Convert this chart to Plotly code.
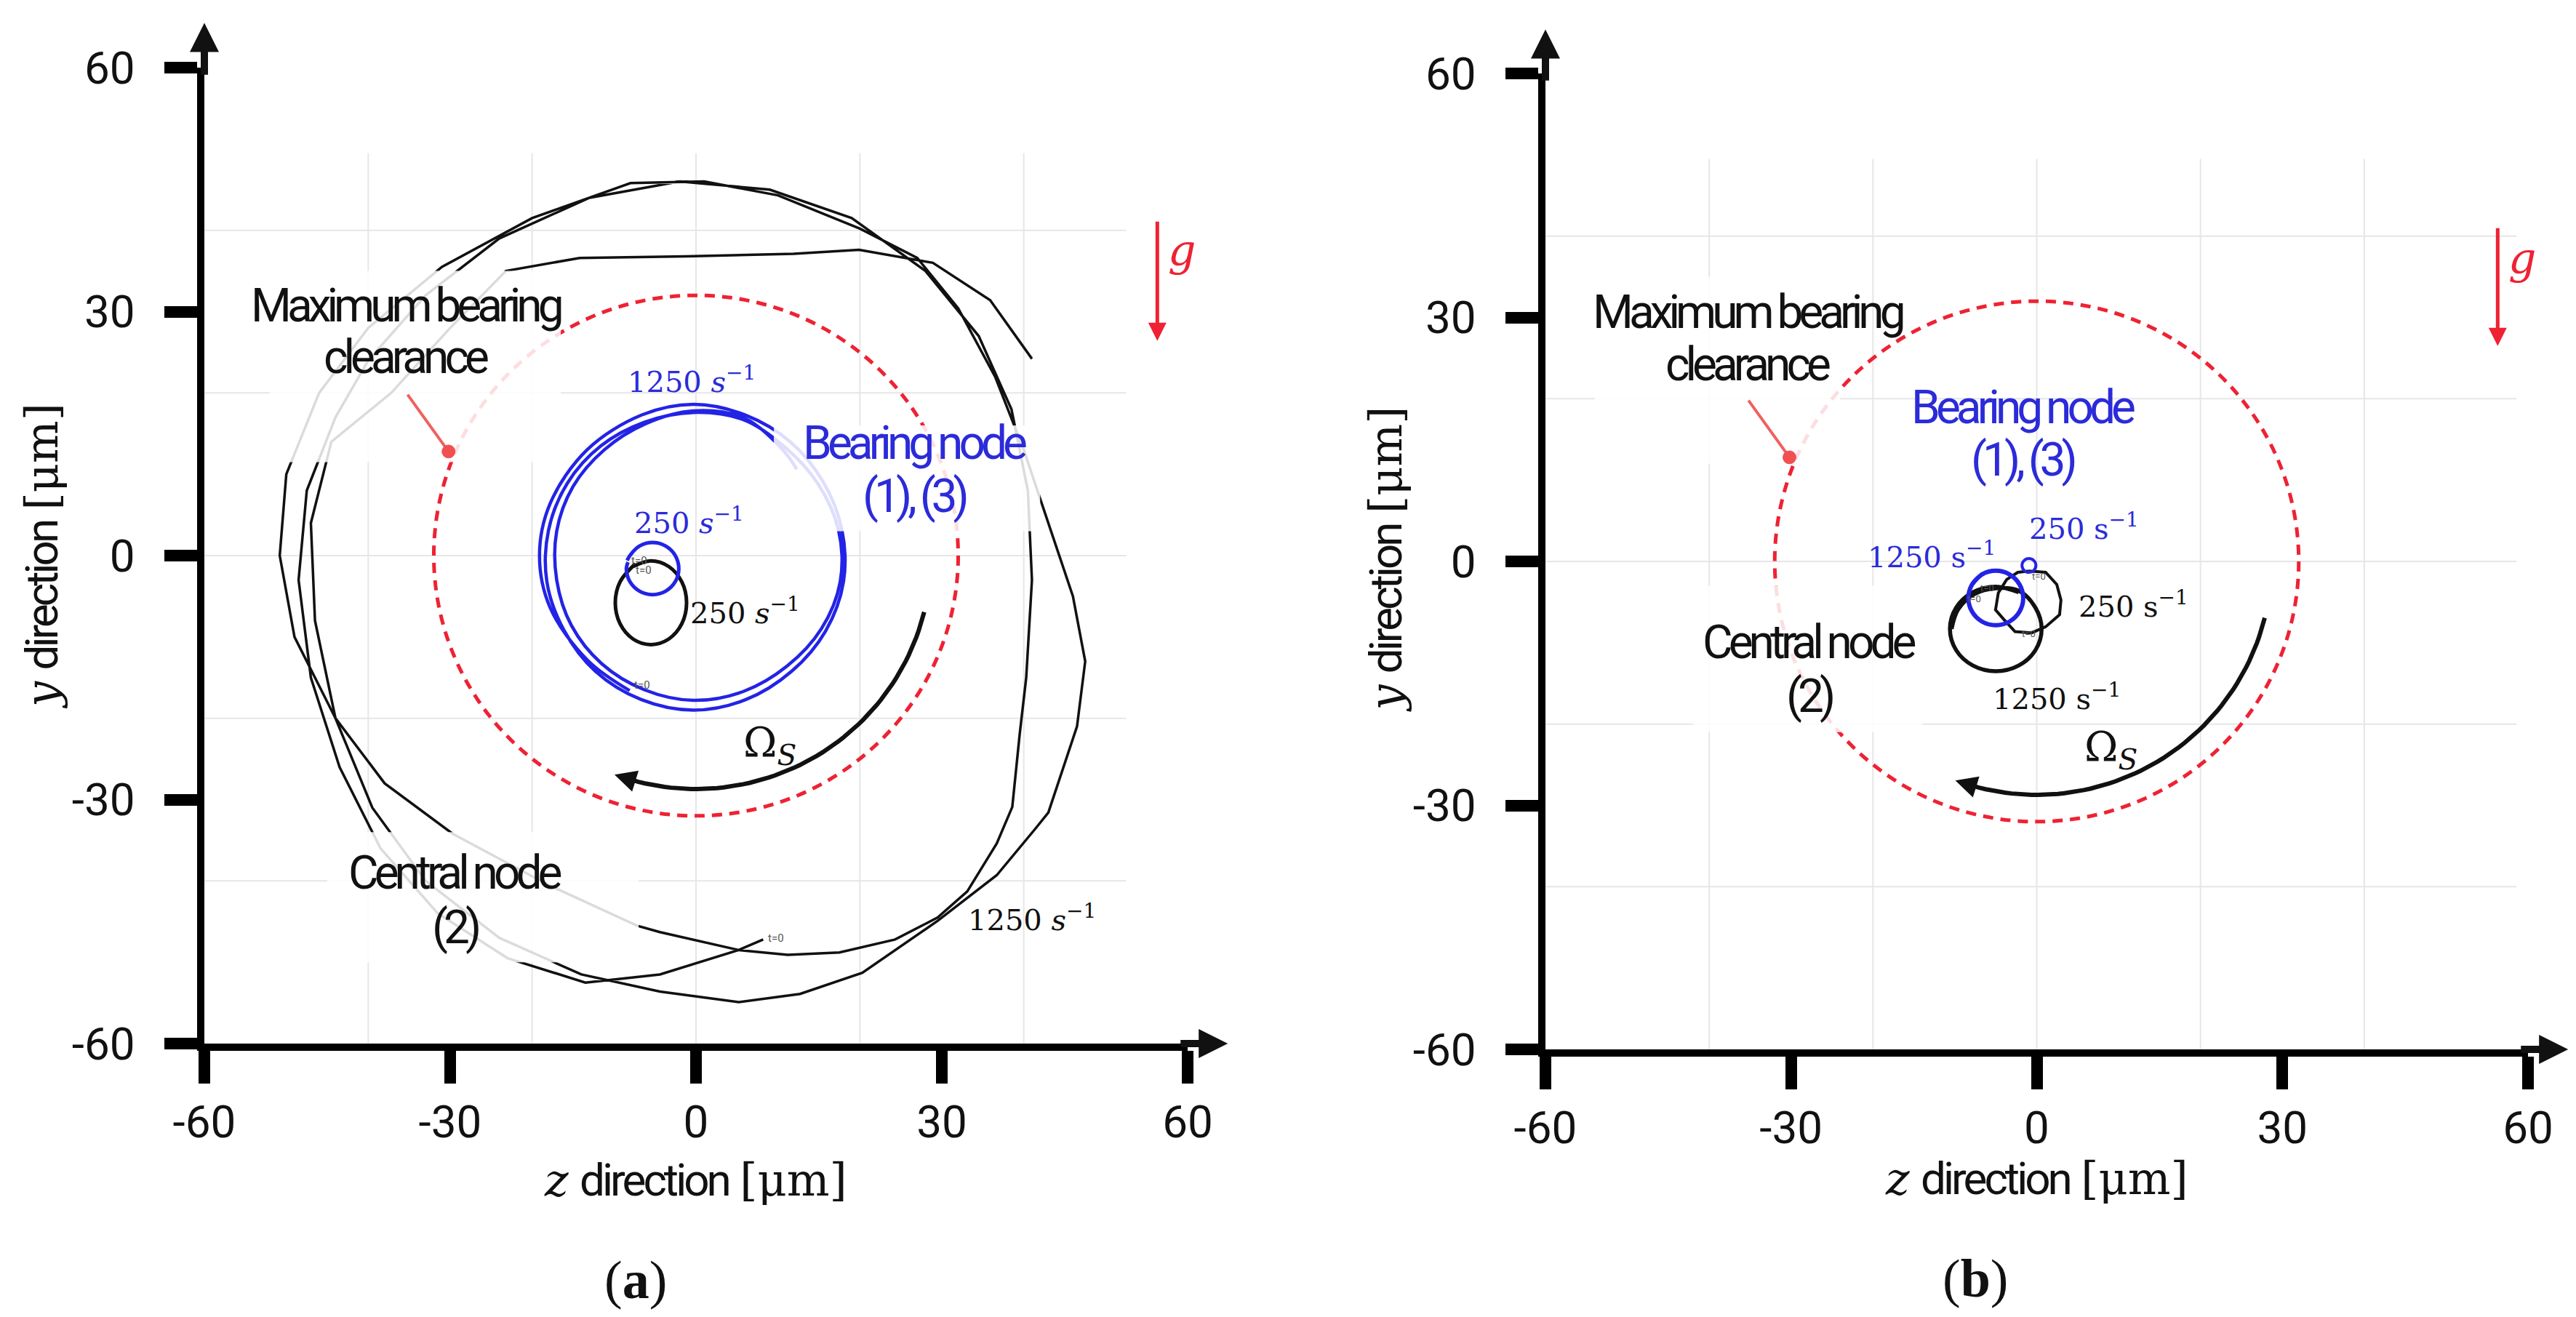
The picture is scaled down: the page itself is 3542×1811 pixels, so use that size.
import plotly.graph_objects as go
import numpy as np

W, H = 3542, 1811

# ---------------- shared axis values ----------------
TICK_VALS = [-60, -30, 0, 30, 60]
TICK_TEXT = ["-60", "-30", "0", "30", "60"]
GRID_VALS = [-40, -20, 0, 20, 40]
CLEARANCE_R = 32

# ---------------- panel (a) trajectories ----------------
A_BEAR_1250_Z = [-8.1, -13.2, -17.8, -19.1, -17.8, -13.3, -6.6, -0.3, 6.0, 11.5, 15.5, 17.8, 18.0, 15.8, 11.7, 6.1,
                 -0.3, -6.7, -12.3, -16.1, -18.2, -18.0, -15.7, -11.6, -6.3, -0.3, 5.8, 10.9, 14.9, 17.4, 17.6, 15.3,
                 11.1, 5.8, -0.3, -6.3, -11.5, -15.2, -17.0, -17.0, -15.0, -11.2, -6.2, -0.3, 5.9, 10.6, 12.3]
A_BEAR_1250_Y = [-16.6, -12.9, -6.4, 0.0, 6.4, 13.0, 17.3, 18.6, 17.3, 14.0, 9.1, 3.2, -3.2, -9.3, -14.2, -17.7,
                 -19.0, -17.7, -14.2, -9.2, -3.2, 3.1, 8.9, 13.5, 16.4, 17.6, 16.7, 13.3, 8.8, 3.1, -3.2, -9.0,
                 -13.6, -16.7, -17.8, -16.5, -13.3, -8.6, -3.0, 3.0, 8.5, 13.0, 16.2, 17.8, 16.9, 13.0, 10.6]

A_BEAR_250_Z = [-8.3, -8.5, -8.07, -6.9, -5.3, -3.7, -2.53, -2.1, -2.53, -3.7, -5.3, -6.9, -8.07, -8.4]
A_BEAR_250_Y = [-0.8, -1.6, -3.2, -4.37, -4.8, -4.37, -3.2, -1.6, 0.0, 1.17, 1.6, 1.17, 0.0, -0.6]

A_CENT_250_Z = [-7.4, -9.27, -9.85, -9.27, -7.68, -5.5, -3.33, -1.73, -1.15, -1.73, -3.33, -5.5, -7.68]
A_CENT_250_Y = [-1.0, -3.23, -5.8, -8.38, -10.26, -10.95, -10.26, -8.38, -5.8, -3.23, -1.34, -0.65, -1.34]

A_CENT_1250_Z = [8.2, 5.2, -4.4, -13.5, -23.0, -31.5, -38.5, -43.5, -47.0, -48.5, -47.5, -44.0, -40.0, -33.0,
                 -24.0, -13.0, -2.0, 9.0, 19.0, 28.0, 34.5, 38.5, 40.5, 41.0, 40.3, 39.5, 38.6, 36.7, 33.1, 29.5,
                 24.3, 17.5, 11.2, 5.2, -4.4, -7.2, -18.0, -29.7, -38.0, -44.0, -49.0, -50.8, -50.0, -46.0, -40.0,
                 -31.0, -20.0, -8.0, 1.0, 10.0, 20.0, 27.0, 32.0, 36.5, 40.0, 43.0, 46.0, 47.5, 46.5, 43.0, 41.4,
                 36.7, 29.5, 20.3, 12.7, 5.2, -4.4, -14.0, -24.0, -33.0, -39.5, -44.0, -46.5, -47.0, -44.5, -37.2,
                 -30.0, -23.2, -14.2, -1.2, 11.9, 19.9, 28.9, 35.9, 41.0]
A_CENT_1250_Y = [-47.2, -48.5, -51.5, -52.5, -49.5, -44.0, -36.0, -26.0, -15.0, -3.0, 8.0, 17.0, 24.0, 32.0,
                 39.0, 44.0, 46.0, 45.0, 41.5, 35.0, 27.0, 18.0, 8.0, -3.0, -15.0, -22.0, -30.9, -35.4, -41.3, -44.5,
                 -47.2, -48.8, -49.1, -48.5, -46.3, -45.5, -40.5, -34.2, -28.0, -20.0, -10.0, 0.0, 10.0, 20.0, 28.0,
                 35.5, 41.5, 45.8, 46.0, 44.3, 40.2, 36.6, 30.4, 22.0, 13.0, 4.0, -5.0, -13.0, -21.0, -31.6, -33.6,
                 -39.3, -44.9, -51.3, -53.9, -54.9, -53.6, -51.5, -47.0, -40.0, -31.0, -20.0, -8.0, 4.0, 14.0, 20.0,
                 28.0, 35.0, 36.6, 36.8, 37.1, 37.6, 36.0, 31.4, 24.2]

# ---------------- panel (b) trajectories ----------------
B_BEAR_1250_Z = [-6.6, -7.9, -8.35, -7.9, -6.68, -5.0, -3.33, -2.1, -1.65, -2.1, -3.33, -5.0, -6.68, -7.9]
B_BEAR_1250_Y = [-1.5, -2.83, -4.5, -6.18, -7.4, -7.85, -7.4, -6.18, -4.5, -2.83, -1.6, -1.15, -1.6, -2.83]

B_BEAR_250_Z = [-0.1, -0.35, -0.95, -1.55, -1.8, -1.55, -0.95, -0.35, -0.1]
B_BEAR_250_Y = [-0.5, 0.1, 0.35, 0.1, -0.5, -1.1, -1.35, -1.1, -0.5]

B_CENT_250_Z = [-0.95, 1.09, 2.45, 2.96, 2.79, 1.09, -0.61, -2.65, -4.01, -5.03, -4.69, -3.67, -2.31, -0.95]
B_CENT_250_Y = [-1.19, -1.34, -2.83, -4.76, -6.55, -8.04, -8.78, -8.63, -7.14, -5.95, -3.87, -2.23, -1.34, -1.19]

B_CENT_1250_Z = [-2.2, -5.0, -7.8, -9.85, -10.6, -9.85, -7.8, -5.0, -2.2, -0.15, 0.6, -0.15, -2.2, -5.0, -7.6,
                 -9.6, -10.4]
B_CENT_1250_Y = [-3.8, -3.1, -3.8, -5.7, -8.3, -10.9, -12.8, -13.5, -12.8, -10.9, -8.3, -5.7, -3.6, -3.3, -4.0,
                 -5.9, -8.3]

# decorative rotation arrow (centre at origin, radius, start/end angle in degrees)
OMEGA_R = 28.7
OMEGA_START = -14
OMEGA_END = -109

# ---------------- layout geometry ----------------
XA_DOM = [273 / W, 1625 / W]
YA_DOM = [1 - 1427 / H, 1 - 85 / H]
XB_DOM = [2117 / W, 3468 / W]
YB_DOM = [1 - 1435 / H, 1 - 93 / H]

BLUE = "#2323e6"
BLUE_TXT = "#2b2bd9"
RED = "#ee2233"
BLACK = "#111111"
SANS = "Roboto, Liberation Sans, sans-serif"
SERIF = "DejaVu Serif, Liberation Serif, serif"


def cond(s, sp=-6):
    return '<span style="letter-spacing:%dpx">%s</span>' % (sp, s)


fig = go.Figure()


def add_line(z, y, color, width, axes, shape="linear"):
    xa, ya = axes
    fig.add_trace(go.Scatter(x=z, y=y, mode="lines", xaxis=xa, yaxis=ya,
                             line=dict(color=color, width=width, shape=shape, smoothing=1.0),
                             hoverinfo="skip", showlegend=False))


# panel a
add_line(A_CENT_1250_Z, A_CENT_1250_Y, BLACK, 3.5, ("x", "y"))
add_line(A_BEAR_1250_Z, A_BEAR_1250_Y, BLUE, 4.5, ("x", "y"), "spline")
add_line(A_CENT_250_Z, A_CENT_250_Y, BLACK, 5, ("x", "y"), "spline")
add_line(A_BEAR_250_Z, A_BEAR_250_Y, BLUE, 5, ("x", "y"), "spline")
# panel b
add_line(B_CENT_1250_Z, B_CENT_1250_Y, BLACK, 5.5, ("x2", "y2"), "spline")
add_line(B_CENT_250_Z, B_CENT_250_Y, BLACK, 4, ("x2", "y2"))
add_line(B_BEAR_1250_Z, B_BEAR_1250_Y, BLUE, 6, ("x2", "y2"), "spline")
add_line(B_BEAR_250_Z, B_BEAR_250_Y, BLUE, 4, ("x2", "y2"), "spline")

# rotation arcs
theta = np.deg2rad(np.linspace(OMEGA_START, OMEGA_END, 60))
arc_z = OMEGA_R * np.cos(theta)
arc_y = OMEGA_R * np.sin(theta)
for axes in [("x", "y"), ("x2", "y2")]:
    add_line(arc_z, arc_y, BLACK, 6, axes)

shapes = []
annotations = []

for (xr, yr, gx_end) in [("x", "y", 52.5), ("x2", "y2", 58.6)]:
    for gv in GRID_VALS:
        shapes.append(dict(type="line", xref=xr, yref=yr, x0=gv, x1=gv, y0=-60, y1=49.5,
                           line=dict(color="#e6e6e6", width=2), layer="below"))
        shapes.append(dict(type="line", xref=xr, yref=yr, x0=-60, x1=gx_end, y0=gv, y1=gv,
                           line=dict(color="#e6e6e6", width=2), layer="below"))
    shapes.append(dict(type="circle", xref=xr, yref=yr, x0=-CLEARANCE_R, x1=CLEARANCE_R,
                       y0=-CLEARANCE_R, y1=CLEARANCE_R,
                       line=dict(color=RED, width=5, dash="14px,10px"), layer="below"))

# semi-transparent label backgrounds
BOXES = [("x", "y", -52, -16.5, 11.5, 35), ("x", "y", -45, -7, -50, -34), ("x", "y", 9.5, 42, 3, 16),
         ("x2", "y2", -54, -24, 12, 35), ("x2", "y2", -42, -14, -21, -3)]
for xr, yr, x0, x1, y0, y1 in BOXES:
    shapes.append(dict(type="rect", xref=xr, yref=yr, x0=x0, x1=x1, y0=y0, y1=y1,
                       fillcolor="rgba(255,255,255,0.85)", line=dict(width=0), layer="above"))

# pointer for clearance
for xr, yr in [("x", "y"), ("x2", "y2")]:
    shapes.append(dict(type="line", xref=xr, yref=yr, x0=-35.2, y0=19.8, x1=-30.2, y1=12.8,
                       line=dict(color="#f06060", width=4), layer="above"))
    shapes.append(dict(type="circle", xref=xr, yref=yr, x0=-31.0, x1=-29.4, y0=12.0, y1=13.6,
                       fillcolor="#f05050", line=dict(color="#f05050", width=1), layer="above"))


def txt(xr, yr, x, y, text, size, color=BLACK, family=SANS, xanchor="center"):
    annotations.append(dict(xref=xr, yref=yr, x=x, y=y, text=text, showarrow=False,
                            font=dict(size=size, color=color, family=family), xanchor=xanchor,
                            yanchor="middle"))


def arrow(xr, yr, x, y, ax, ay, color, width, size):
    annotations.append(dict(xref=xr, yref=yr, axref=xr, ayref=yr, x=x, y=y, ax=ax, ay=ay, text="",
                            showarrow=True, arrowhead=2, arrowsize=size, arrowwidth=width,
                            arrowcolor=color))


S1250_IT = "1250 <i>s</i><sup>−1</sup>"
S250_IT = "250 <i>s</i><sup>−1</sup>"
S1250 = "1250 s<sup>−1</sup>"
S250 = "250 s<sup>−1</sup>"
LBL = 64

# ---- panel a annotations
txt("x", "y", -35.4, 30.7, cond("Maximum bearing"), LBL)
txt("x", "y", -35.4, 24.4, cond("clearance"), LBL)
txt("x", "y", 26.7, 13.8, cond("Bearing node"), LBL, BLUE_TXT)
txt("x", "y", 26.7, 7.3, cond("(1), (3)"), LBL, BLUE_TXT)
txt("x", "y", -29.4, -39.0, cond("Central node"), LBL)
txt("x", "y", -29.4, -45.7, cond("(2)"), LBL)
txt("x", "y", -0.5, 21.6, S1250_IT, 40, BLUE_TXT, SERIF)
txt("x", "y", -0.8, 4.3, S250_IT, 40, BLUE_TXT, SERIF)
txt("x", "y", 6.0, -6.8, S250_IT, 40, BLACK, SERIF)
txt("x", "y", 41.0, -44.5, S1250_IT, 40, BLACK, SERIF)
txt("x", "y", 9.0, -23.3, "Ω<sub><i>S</i></sub>", 56, BLACK, SERIF)
txt("x", "y", 59.3, 37.6, "<i>g</i>", 60, RED, SERIF)
txt("x", "y", -6.9, -0.6, "t=0", 15, "#555555", SANS)
txt("x", "y", -6.4, -1.8, "t=0", 15, "#555555", SANS)
txt("x", "y", -6.6, -15.9, "t=0", 15, "#555555", SANS)
txt("x", "y", 9.8, -47.0, "t=0", 15, "#555555", SANS)
arrow("x", "y", 56.3, 26.4, 56.3, 41.2, RED, 5, 1.0)

# ---- panel b annotations
txt("x2", "y2", -35.3, 30.6, cond("Maximum bearing"), LBL)
txt("x2", "y2", -35.3, 24.2, cond("clearance"), LBL)
txt("x2", "y2", -1.7, 18.9, cond("Bearing node"), LBL, BLUE_TXT)
txt("x2", "y2", -1.7, 12.5, cond("(1), (3)"), LBL, BLUE_TXT)
txt("x2", "y2", -27.8, -10.0, cond("Central node"), LBL)
txt("x2", "y2", -27.8, -16.6, cond("(2)"), LBL)
txt("x2", "y2", -12.8, 0.8, S1250, 40, BLUE_TXT, SERIF)
txt("x2", "y2", 5.8, 4.3, S250, 40, BLUE_TXT, SERIF)
txt("x2", "y2", 11.8, -5.3, S250, 40, BLACK, SERIF)
txt("x2", "y2", 2.4, -16.6, S1250, 40, BLACK, SERIF)
txt("x2", "y2", 9.1, -23.1, "Ω<sub><i>S</i></sub>", 56, BLACK, SERIF)
txt("x2", "y2", 59.3, 37.3, "<i>g</i>", 60, RED, SERIF)
txt("x2", "y2", -6.0, -3.3, "t=0", 13, "#555555", SANS)
txt("x2", "y2", -7.6, -4.6, "t=0", 13, "#555555", SANS)
txt("x2", "y2", 0.3, -1.8, "t=0", 13, "#555555", SANS)
txt("x2", "y2", -1.0, -8.9, "t=0", 13, "#555555", SANS)
arrow("x2", "y2", 56.3, 26.5, 56.3, 41.1, RED, 5, 1.0)

# rotation arrow heads
end = np.deg2rad(OMEGA_END)
pre = np.deg2rad(OMEGA_END + 4)
for xr, yr in [("x", "y"), ("x2", "y2")]:
    arrow(xr, yr, OMEGA_R * np.cos(end) - 0.6, OMEGA_R * np.sin(end) + 0.2,
          OMEGA_R * np.cos(pre), OMEGA_R * np.sin(pre), BLACK, 5, 1.2)

# axis arrows
arrow("x", "y", 64.9, -60, 59, -60, BLACK, 10, 0.8)
arrow("x", "y", -60, 65.5, -60, 59, BLACK, 10, 0.8)
arrow("x2", "y2", 64.9, -60, 59, -60, BLACK, 10, 0.8)
arrow("x2", "y2", -60, 65.4, -60, 59, BLACK, 10, 0.8)

# axis titles and panel labels (paper)
SER_SPAN = '<span style="font-family:DejaVu Serif">'
XT = SER_SPAN + '<i>z</i></span> ' + cond("direction", -4) + ' ' + SER_SPAN + '[μm]</span>'
YT = SER_SPAN + '<i>y</i></span> ' + cond("direction", -4) + ' ' + SER_SPAN + '[μm]</span>'
for x, y, t, ang in [(949 / W, 1 - 1614 / H, XT, 0), (2792 / W, 1 - 1612 / H, XT, 0),
                     (50 / W, 0.582, YT, -90), (1898 / W, 0.58, YT, -90)]:
    annotations.append(dict(xref="paper", yref="paper", x=x, y=y, text=t, showarrow=False, textangle=ang,
                            font=dict(size=62, color=BLACK, family=SANS), xanchor="center", yanchor="middle"))
for x, y, t in [(866 / W, 1 - 1752 / H, "(<b>a</b>)"), (2708 / W, 1 - 1750 / H, "(<b>b</b>)")]:
    annotations.append(dict(xref="paper", yref="paper", x=x, y=y, text=t, showarrow=False,
                            font=dict(size=74, color=BLACK, family="Liberation Serif, serif"),
                            xanchor="center", yanchor="middle"))

axis_common = dict(range=[-60, 60], showgrid=False, zeroline=False, showline=True, linewidth=10,
                   linecolor="black", ticks="outside", ticklen=45, tickwidth=16, tickcolor="black",
                   tickvals=TICK_VALS, ticktext=TICK_TEXT, tickfont=dict(size=62, family=SANS, color=BLACK),
                   fixedrange=True, automargin=False)

fig.update_layout(
    width=W, height=H, margin=dict(l=0, r=0, t=0, b=0, pad=0, autoexpand=False),
    paper_bgcolor="white", plot_bgcolor="white", showlegend=False,
    xaxis=dict(domain=XA_DOM, anchor="y", **axis_common),
    yaxis=dict(domain=YA_DOM, anchor="x", ticklabelstandoff=28, **axis_common),
    xaxis2=dict(domain=XB_DOM, anchor="y2", **axis_common),
    yaxis2=dict(domain=YB_DOM, anchor="x2", ticklabelstandoff=28, **axis_common),
    shapes=shapes, annotations=annotations,
)

fig.write_html("out.html")
